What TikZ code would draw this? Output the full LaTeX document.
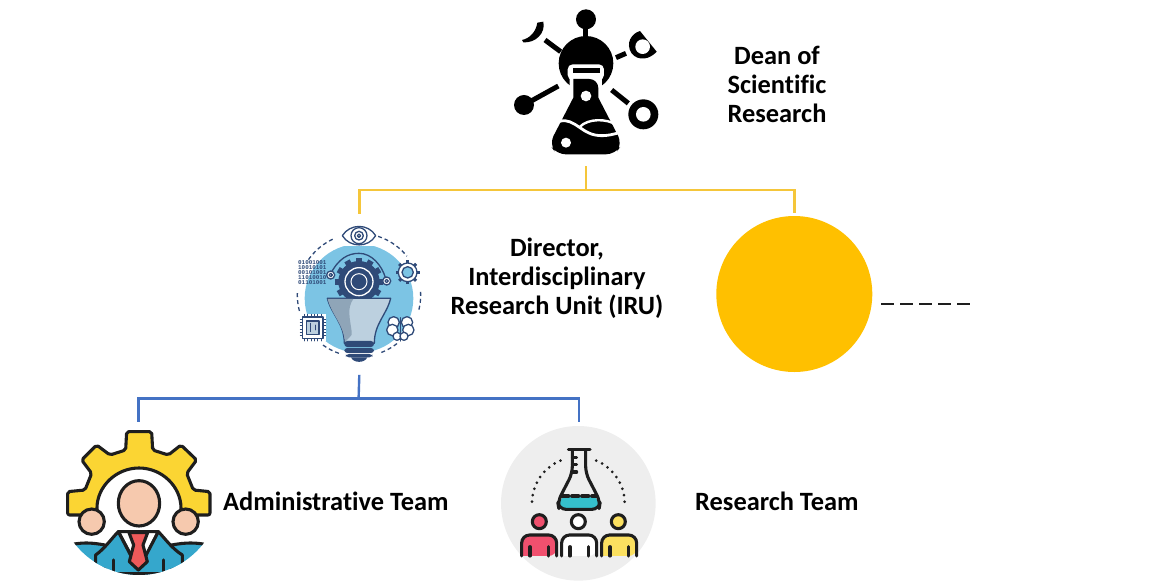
\documentclass[tikz,border=0pt]{standalone}
\usepackage{fontspec}
\setmainfont[Ligatures=NoCommon]{Carlito}
\setmonofont{Liberation Mono}
\definecolor{ylw}{HTML}{F5C63A}
\definecolor{blu}{HTML}{4472C4}
\definecolor{gold}{HTML}{FFC000}
\definecolor{ink}{HTML}{1E1E1E}
\definecolor{sky}{HTML}{7CC4E4}
\definecolor{navy}{HTML}{2F4A78}
\definecolor{bulbl}{HTML}{BCD0DF}
\definecolor{bulbd}{HTML}{8FA5B8}
\definecolor{skin}{HTML}{F6C9AE}
\definecolor{gearc}{HTML}{FBD533}
\definecolor{suit}{HTML}{35A7CC}
\definecolor{tiec}{HTML}{EE5A5A}
\definecolor{pale}{HTML}{EEEEEE}
\definecolor{tealc}{HTML}{35C0CC}
\definecolor{redp}{HTML}{F0506E}
\definecolor{yelp}{HTML}{FBE060}
\tikzset{
 lab/.style={font=\fontsize{26.4}{29}\selectfont\bfseries,align=center,text=black,inner sep=0pt},
 yline/.style={draw=ylw,line width=2.4pt},
 bline/.style={draw=blu,line width=2.4pt},
 anchorbox/.style={circle,inner sep=0pt,minimum size=#1},
 zoomed/.style={x=.3333pt,y=-.3333pt},
 ol/.style={draw=ink,line width=3.1pt,line join=round,line cap=round},
 nl/.style={draw=navy,line width=1.3pt,line join=round,line cap=round},
 link/.style={draw=black,line width=5pt},
 dash5/.style={draw=ink,line width=2pt,dash pattern=on 13.3pt off 5.7pt},
}
\begin{document}
\begin{tikzpicture}[x=1pt,y=-1pt]
\useasboundingbox (0,0) rectangle (1170,587);
%--- anchors
\node[anchorbox=152pt] (dean) at (586,90) {};
\node[anchorbox=160.5pt] (dir) at (359.3,294.5) {};
\node[circle,fill=gold,minimum size=156pt,inner sep=0pt] (other) at (794.3,294) {};
\node[anchorbox=150pt] (adm) at (138.3,496.7) {};
\node[anchorbox=160pt] (res) at (579,501.7) {};
\coordinate (ysplit) at (586,189.7);
\coordinate (bsplit) at (358.6,398.5);
\coordinate (dashA) at (881,304);
\coordinate (dashB) at (972,304);
%--- connectors
\draw[yline] (dean.south) -- (ysplit);
\draw[yline] (ysplit) -| (dir.north);
\draw[yline,shorten >=3pt] (ysplit) -| (other.north);
\draw[bline] (dir.south) -- (bsplit);
\draw[bline] (bsplit) -| (adm.north);
\draw[bline] (bsplit) -| (res.north);
\draw[dash5] (dashA) -- (dashB);
%--- labels
\node[lab] (t1) at (777,84) {Dean of\\Scientific\\Research};
\node[lab] (t2) at (557,278) {Director,\\Interdisciplinary\\Research Unit (IRU)};
\node[lab,anchor=west] (t3) at (223,501) {Administrative Team};
\node[lab,anchor=west] (t4) at (695,501) {Research Team};
%--- dean icon
\begin{scope}[shift={(500,0)},zoomed]
 \fill[black] (258,58) circle (30);
 \draw[link] (258,85) -- (258,115);
 \fill[black] (112,68) -- (130,65) .. controls (138,100) and (105,130) .. (70,127) -- (66,120) .. controls (90,115) and (108,95) .. cycle;
 \draw[link] (135,120) -- (182,155);
 \draw[link] (348,173) -- (378,160);
 \fill[black] (420,93) -- (470,155) .. controls (450,178) and (415,185) .. (395,160) .. controls (375,130) and (395,100) .. cycle;
 \fill[white] (428,140) circle (22);
 \fill[black] (72,315) circle (30);
 \draw[link] (90,305) -- (175,258);
 \draw[link] (335,270) -- (385,310);
 \fill[black] (430,343) circle (45);
 \fill[white] (430,343) circle (22);
 \fill[black] (258,190) circle (82);
 \fill[white,rounded corners=5pt] (203,193) rectangle (312,240);
 \fill[white] (209,232) -- (306,232) -- (306,290) -- (350,365) -- (165,365) -- (209,290) -- cycle;
 \fill[black] (218,205) rectangle (300,218);
 \fill[black,rounded corners=9pt] (220,237) -- (295,237) [sharp corners] -- (295,293) [rounded corners=9pt] -- (367,432) -- (345,463) -- (170,463) -- (148,432) [sharp corners] -- (220,293) -- cycle;
 \fill[white] (258,288) circle (16);
 \fill[white] (198,428) circle (15);
 \draw[white,line width=2.8pt] (160,372) .. controls (215,340) and (235,395) .. (285,405) .. controls (310,410) and (335,405) .. (360,397);
 \draw[white,line width=2.4pt] (240,380) .. controls (265,355) and (320,355) .. (350,375);
\end{scope}
%--- director icon
\begin{scope}[shift={(285,215)},zoomed]
 \foreach \a/\b in {-3/15,52/71,109/128,165/183,215/247,288/321}
  \draw[navy,line width=1.3pt,dash pattern=on 4pt off 3pt,smooth] plot[domain=\a:\b,samples=12] ({222+185*cos(\x)},{240+185*sin(\x)});
 \fill[sky] (222,250) circle (163);
 % arc + big gear
 \draw[nl] (135,180) .. controls (160,130) and (190,115) .. (222,115) .. controls (260,115) and (290,150) .. (302,190);
 \foreach \a in {0,30,...,330}
  \draw[navy,line width=6pt] (222,200) -- ++(\a:72);
 \fill[navy] (222,200) circle (62);
 \draw[white,line width=1.3pt] (222,200) circle (42);
 \draw[white,line width=1pt] (222,200) circle (24);
 \fill[white] (137,180) circle (12);
 \draw[nl] (137,180) circle (12);
 \draw[nl] (137,180) circle (5);
 \fill[white] (305,198) circle (12);
 \draw[nl] (305,198) circle (12);
 \draw[nl] (305,198) circle (5);
 % eye
 \fill[white] (165,30) rectangle (280,92);
 \draw[nl,fill=white] (172,62) .. controls (195,25) and (250,25) .. (272,62) .. controls (250,99) and (195,99) .. cycle;
 \draw[nl] (222,62) circle (24);
 \draw[nl] (222,62) circle (13);
 \draw[nl] (222,62) circle (5);
 % binary
 \node[font=\ttfamily\bfseries\fontsize{5.9}{5}\selectfont,text=navy,align=left,inner sep=0pt] (bin) at (82,172) {01001001\\10010101\\00101001\\11010010\\01101001};
 % small gear
 \foreach \a in {0,45,...,315}
  \draw[navy,line width=3pt] (368,172) -- ++(\a:36);
 \fill[white] (368,172) circle (28);
 \fill[sky] (368,172) circle (17);
 \draw[nl] (368,172) circle (28);
 \draw[nl] (368,172) circle (17);
 % bulb
 \draw[nl,fill=bulbl] (127,250) -- (317,250) .. controls (305,300) and (268,325) .. (268,385) -- (178,385) .. controls (178,325) and (140,300) .. cycle;
 \fill[bulbd] (128,252) -- (205,252) .. controls (185,280) and (195,310) .. (200,350) .. controls (205,365) and (185,370) .. (180,383) .. controls (175,325) and (140,300) .. cycle;
 \fill[navy,rounded corners=3pt] (178,378) rectangle (267,396);
 \fill[navy,rounded corners=3pt] (178,399) rectangle (267,414);
 \fill[navy,rounded corners=3pt] (183,417) rectangle (262,427);
 \fill[navy] (198,427) .. controls (205,445) and (240,445) .. (247,427) -- cycle;
 % cpu
 \fill[white] (45,298) rectangle (122,378);
 \foreach \i in {0,1,...,5} {
  \draw[nl,line width=.7pt] (58+\i*10,298) -- (58+\i*10,378);
  \draw[nl,line width=.7pt] (46,312+\i*10) -- (122,312+\i*10);
 }
 \draw[nl,fill=white] (53,306) rectangle (114,371);
 \draw[nl,fill=bulbl] (65,318) rectangle (102,358);
 \draw[nl,line width=.8pt] (75,350) -- (75,325) (90,345) -- (90,330);
 % brain
 \foreach \px/\py/\r in {326/322/17,366/322/17,322/345/17,370/345/17,336/364/12,357/364/12}
  \draw[nl,fill=white] (\px,\py) circle (\r);
 \draw[nl] (346,308) -- (346,378);
\end{scope}
%--- administrative team
\begin{scope}[shift={(55,420)},zoomed]
 \path[clip] (252,220) circle (245);
 \draw[ol,fill=gearc,rounded corners=2pt] (215,35) -- (290,35) -- (293,90) -- (340,105) -- (378,75) -- (425,120) -- (395,160) -- (415,210) -- (465,215) -- (465,285) -- (378,285) -- (378,270) arc[start angle=0,end angle=-180,radius=126] -- (126,285) -- (38,285) -- (38,215) -- (90,210) -- (110,160) -- (80,120) -- (125,75) -- (165,105) -- (212,90) -- cycle;
 \draw[ol,fill=skin] (110,305) circle (38);
 \draw[ol,fill=skin] (392,305) circle (38);
 \draw[ol,fill=suit] (30,378) .. controls (80,365) and (110,368) .. (150,375) -- (150,490) -- (30,490) -- cycle;
 \draw[ol,fill=suit] (474,378) .. controls (420,365) and (390,368) .. (350,375) -- (350,490) -- (474,490) -- cycle;
 \draw[ol,fill=white] (190,335) -- (310,335) -- (252,450) -- cycle;
 \draw[ol,fill=suit] (122,490) -- (122,405) .. controls (150,385) and (170,355) .. (190,335) -- (250,450) -- (310,335) .. controls (330,355) and (350,385) .. (382,405) -- (382,490) -- cycle;
 \draw[ol,fill=tiec] (222,338) -- (278,338) -- (264,375) -- (277,425) -- (250,450) -- (223,425) -- (236,375) -- cycle;
 \draw[ol] (175,420) -- (175,470) (325,420) -- (325,470);
 \draw[ol,fill=skin] (252,250) ellipse (62 and 68);
 \draw[ink,line width=3.1pt] (130,460) -- (370,460);
\end{scope}
%--- research team
\begin{scope}[shift={(495,420)},zoomed]
 \fill[pale] (250,250) circle (232);
 \draw[ink,line width=3pt,dash pattern=on 0pt off 6.6pt,line cap=round] plot[smooth,domain=182:255,samples=20] ({250+139*cos(\x)},{250+139*sin(\x)});
 \draw[ink,line width=3pt,dash pattern=on 0pt off 6.6pt,line cap=round] plot[smooth,domain=358:285,samples=20] ({250+139*cos(\x)},{250+139*sin(\x)});
 \fill[tealc,rounded corners=5pt] (200,228) -- (304,228) -- (316,268) -- (188,268) -- cycle;
 \draw[ol,rounded corners=7pt] (232,90) -- (232,160) -- (188,245) -- (192,268) -- (312,268) -- (316,245) -- (272,160) -- (272,90);
 \draw[ol] (220,88) -- (285,88);
 \draw[ol,dash pattern=on 7pt off 3pt] (200,228) -- (304,228);
 \draw[ol] (232,112) -- (245,112) (232,134) -- (245,134) (232,156) -- (245,156);
 \draw[ol,fill=redp] (133,305) circle (21);
 \draw[ol,fill=white] (250,305) circle (21);
 \draw[ol,fill=yelp] (370,305) circle (21);
 \foreach \l/\c in {80/redp,200/white,320/yelp} {
  \fill[\c,rounded corners=8pt] (\l,408) -- (\l,345) -- (\l+105,345) -- (\l+105,408) [sharp corners] -- cycle;
  \draw[ol,rounded corners=8pt] (\l,408) -- (\l,345) -- (\l+105,345) -- (\l+105,408);
  \draw[ol] (\l+25,380) -- (\l+25,408) (\l+80,380) -- (\l+80,408);
 }
\end{scope}
\end{tikzpicture}
\end{document}
